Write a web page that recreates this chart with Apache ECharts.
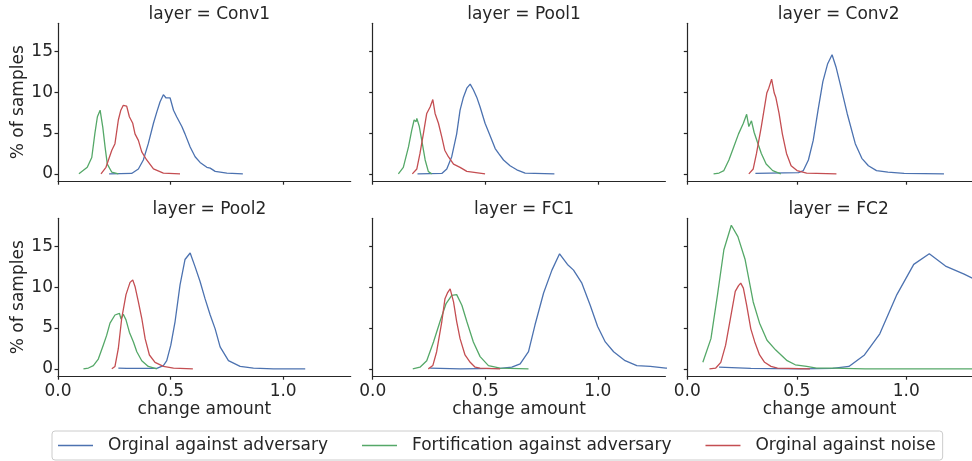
<!DOCTYPE html>
<html><head><meta charset="utf-8">
<script src="https://cdn.jsdelivr.net/npm/echarts@6/dist/echarts.min.js"></script>
<style>html,body{margin:0;padding:0;background:#fff}#c{width:972px;height:461px}</style>
</head><body><div id="c"></div>
<script>
// ---------- data ----------
const panelTitles = ['layer = Conv1', 'layer = Pool1', 'layer = Conv2', 'layer = Pool2', 'layer = FC1', 'layer = FC2'];
const seriesNames = ['Orginal against adversary', 'Fortification against adversary', 'Orginal against noise'];
const xTicks = [0, 0.5, 1.0];
const yTicks = [0, 5, 10, 15];

// Conv1
const conv1Adv = [[0.227,0],[0.327,0.05],[0.357,0.6],[0.379,1.7],[0.401,3.7],[0.424,6.2],[0.439,7.6],[0.453,8.8],[0.468,9.7],[0.480,9.3],[0.498,9.3],[0.513,7.8],[0.527,7.0],[0.550,5.8],[0.564,4.9],[0.587,3.3],[0.609,2.1],[0.631,1.4],[0.661,0.8],[0.676,0.7],[0.698,0.3],[0.750,0.1],[0.821,0]];
const conv1Fort = [[0.093,0],[0.130,0.8],[0.150,2.0],[0.164,5.0],[0.175,7.0],[0.187,7.8],[0.199,5.7],[0.209,3.3],[0.219,1.2],[0.239,0.2],[0.268,0]];
const conv1Noise = [[0.191,0],[0.213,0.8],[0.239,2.9],[0.253,3.7],[0.268,6.6],[0.279,7.8],[0.290,8.4],[0.305,8.3],[0.317,7.0],[0.332,6.2],[0.342,4.9],[0.357,4.1],[0.372,2.7],[0.394,1.7],[0.424,0.6],[0.468,0.1],[0.542,0]];
// Pool1
const pool1Adv = [[0.199,0],[0.307,0.05],[0.329,0.6],[0.351,2.1],[0.373,4.9],[0.388,7.8],[0.403,9.4],[0.418,10.5],[0.433,11.0],[0.447,10.3],[0.462,9.4],[0.477,8.2],[0.499,6.2],[0.521,4.7],[0.544,3.1],[0.559,2.5],[0.581,1.7],[0.610,1.0],[0.640,0.5],[0.677,0.1],[0.807,0]];
const pool1Fort = [[0.114,0],[0.136,0.8],[0.159,3.3],[0.173,5.3],[0.184,6.6],[0.188,6.8],[0.193,6.4],[0.196,6.8],[0.207,5.8],[0.218,4.1],[0.233,1.7],[0.247,0.3],[0.262,0]];
const pool1Noise = [[0.176,0],[0.196,0.6],[0.210,2.5],[0.225,4.9],[0.240,7.4],[0.255,8.2],[0.267,9.1],[0.277,7.4],[0.292,6.2],[0.307,4.5],[0.320,2.9],[0.336,2.1],[0.359,1.2],[0.388,0.8],[0.418,0.3],[0.499,0]];
// Conv2
const conv2Adv = [[0.311,0.05],[0.508,0.15],[0.530,0.4],[0.553,1.7],[0.575,4.1],[0.597,7.8],[0.619,11.3],[0.641,13.5],[0.661,14.6],[0.679,13.1],[0.701,10.7],[0.730,7.4],[0.767,3.7],[0.797,1.9],[0.827,1.0],[0.864,0.4],[0.916,0.2],[0.990,0.05],[1.172,0]];
const conv2Fort = [[0.120,0],[0.145,0.1],[0.167,0.4],[0.190,1.7],[0.212,3.3],[0.234,4.9],[0.256,6.2],[0.271,7.3],[0.281,5.8],[0.293,6.5],[0.305,5.1],[0.320,3.9],[0.338,2.5],[0.360,1.2],[0.390,0.4],[0.427,0]];
const conv2Noise = [[0.281,0],[0.301,0.6],[0.316,2.5],[0.338,5.8],[0.363,9.9],[0.372,10.5],[0.385,11.6],[0.397,9.9],[0.404,9.4],[0.419,7.4],[0.434,4.9],[0.453,2.5],[0.474,1.0],[0.501,0.4],[0.545,0.1],[0.681,0]];
// Pool2
const pool2Adv = [[0.268,0.1],[0.305,0.05],[0.439,0.05],[0.468,0.4],[0.483,1.0],[0.501,2.9],[0.520,5.8],[0.542,10.3],[0.564,13.4],[0.587,14.2],[0.609,12.5],[0.631,10.7],[0.653,8.6],[0.676,6.6],[0.698,4.9],[0.720,2.7],[0.757,1.0],[0.809,0.3],[0.868,0.1],[0.957,0],[1.098,0]];
const pool2Fort = [[0.113,0],[0.135,0.1],[0.157,0.4],[0.179,1.2],[0.201,2.9],[0.216,4.1],[0.231,5.6],[0.253,6.6],[0.273,6.8],[0.280,6.1],[0.290,6.7],[0.302,6.0],[0.317,4.5],[0.335,3.3],[0.350,2.1],[0.372,1.0],[0.401,0.3],[0.439,0]];
const pool2Noise = [[0.239,0],[0.253,0.3],[0.268,2.5],[0.283,6.2],[0.302,9.1],[0.320,10.6],[0.332,10.9],[0.342,10.1],[0.357,8.2],[0.372,6.2],[0.387,3.7],[0.406,1.7],[0.431,0.8],[0.468,0.3],[0.513,0.1],[0.599,0]];
// FC1
const fc1Adv = [[0.255,0.1],[0.388,0],[0.566,0.05],[0.618,0.2],[0.655,0.6],[0.692,2.1],[0.721,5.4],[0.759,9.3],[0.796,12.1],[0.830,14.1],[0.865,12.8],[0.892,12.1],[0.929,10.5],[0.966,7.8],[0.999,5.2],[1.033,3.3],[1.070,2.1],[1.121,1.0],[1.173,0.4],[1.233,0.3],[1.302,0.1],[1.34,0.05]];
const fc1Fort = [[0.178,0],[0.210,0.2],[0.240,1.0],[0.270,3.3],[0.299,5.8],[0.326,8.0],[0.351,9.0],[0.373,9.1],[0.396,7.8],[0.418,5.8],[0.447,3.3],[0.477,1.5],[0.514,0.4],[0.566,0.1],[0.692,0]];
const fc1Noise = [[0.247,0],[0.267,0.4],[0.284,2.1],[0.307,5.8],[0.321,8.6],[0.332,9.3],[0.344,9.8],[0.359,8.2],[0.373,5.8],[0.388,3.7],[0.410,1.7],[0.433,0.8],[0.455,0.2],[0.477,0.1],[0.566,0]];
// FC2
const fc2Adv = [[0.145,0.2],[0.290,0.05],[0.516,0],[0.664,0.05],[0.738,0.3],[0.809,1.7],[0.879,4.3],[0.957,9.1],[1.034,12.8],[1.105,14.1],[1.179,12.6],[1.264,11.6],[1.34,10.6]];
const fc2Fort = [[0.071,0.8],[0.108,3.7],[0.138,9.1],[0.167,14.6],[0.201,17.6],[0.231,16.2],[0.264,13.4],[0.301,8.2],[0.330,5.6],[0.364,3.5],[0.404,2.3],[0.456,1.0],[0.493,0.5],[0.545,0.3],[0.590,0.1],[0.664,0.1],[0.812,0],[1.34,0]];
const fc2Noise = [[0.101,0],[0.130,0.1],[0.153,0.8],[0.175,2.9],[0.197,6.2],[0.219,9.5],[0.234,10.2],[0.244,10.5],[0.256,9.9],[0.271,7.8],[0.290,4.9],[0.308,3.3],[0.330,1.7],[0.353,0.8],[0.382,0.3],[0.412,0.1],[0.560,0]];

const panelData = [
  [conv1Adv, conv1Fort, conv1Noise],
  [pool1Adv, pool1Fort, pool1Noise],
  [conv2Adv, conv2Fort, conv2Noise],
  [pool2Adv, pool2Fort, pool2Noise],
  [fc1Adv, fc1Fort, fc1Noise],
  [fc2Adv, fc2Fort, fc2Noise]
];

// ---------- style / layout ----------
const colors = ['#4C72B0', '#55A868', '#C44E52'];
const ink = '#262626';
const font = 'DejaVu Sans';
const colLeft = [58, 372.7, 687.3];
const gridW = 292.7;
const rowTop = [23.3, 218.3];
const gridH = 157.9;

const grids = [], xAxes = [], yAxes = [], titles = [], series = [];
for (let p = 0; p < 6; p++) {
  const r = Math.floor(p / 3), c = p % 3;
  grids.push({ left: colLeft[c], top: rowTop[r], width: gridW, height: gridH, containLabel: false });
  titles.push({
    text: panelTitles[p], left: colLeft[c] + gridW / 2, top: rowTop[r] - 22, textAlign: 'center',
    textStyle: { fontFamily: font, fontSize: 17, fontWeight: 'normal', color: ink, lineHeight: 17 }
  });
  xAxes.push({
    gridIndex: p, type: 'value', min: 0, max: 1.3,
    axisLine: { show: true, onZero: false, lineStyle: { color: ink, width: 1.2 } },
    axisTick: { show: true, length: 3.5, lineStyle: { color: ink, width: 1.2 }, customValues: xTicks },
    axisLabel: { show: r === 1, customValues: xTicks, formatter: v => v.toFixed(1), fontFamily: font, fontSize: 17, color: ink, margin: 7 },
    splitLine: { show: false },
    name: r === 1 ? 'change amount' : '', nameLocation: 'middle', nameGap: 25,
    nameTextStyle: { fontFamily: font, fontSize: 17, color: ink }
  });
  yAxes.push({
    gridIndex: p, type: 'value', min: -0.9, max: 18.45,
    axisLine: { show: true, onZero: false, lineStyle: { color: ink, width: 1.2 } },
    axisTick: { show: true, length: 3.5, lineStyle: { color: ink, width: 1.2 }, customValues: yTicks },
    axisLabel: { show: c === 0, customValues: yTicks, fontFamily: font, fontSize: 17, color: ink, margin: 5 },
    splitLine: { show: false },
    name: c === 0 ? '% of samples' : '', nameLocation: 'middle', nameGap: 30,
    nameTextStyle: { fontFamily: font, fontSize: 17, color: ink }
  });
  for (let s = 0; s < 3; s++) {
    series.push({
      name: seriesNames[s], type: 'line', xAxisIndex: p, yAxisIndex: p,
      data: panelData[p][s], symbol: 'none', smooth: false, clip: true,
      lineStyle: { color: colors[s], width: 1.3 }, itemStyle: { color: colors[s] },
      animation: false
    });
  }
}

const chart = echarts.init(document.getElementById('c'), null, { renderer: 'canvas' });
chart.setOption({
  animation: false,
  backgroundColor: '#fff',
  title: titles,
  grid: grids,
  xAxis: xAxes,
  yAxis: yAxes,
  legend: {
    data: seriesNames.map(n => ({ name: n, icon: 'rect' })),
    left: 52, top: 431, orient: 'horizontal',
    itemWidth: 35, itemHeight: 1.4, itemGap: 34,
    padding: [6, 7, 6, 6],
    borderColor: '#cccccc', borderWidth: 1, borderRadius: 3, backgroundColor: '#fff',
    textStyle: { fontFamily: font, fontSize: 17, color: ink, padding: [0, 0, 0, 10] }
  },
  series: series
});
</script></body></html>
